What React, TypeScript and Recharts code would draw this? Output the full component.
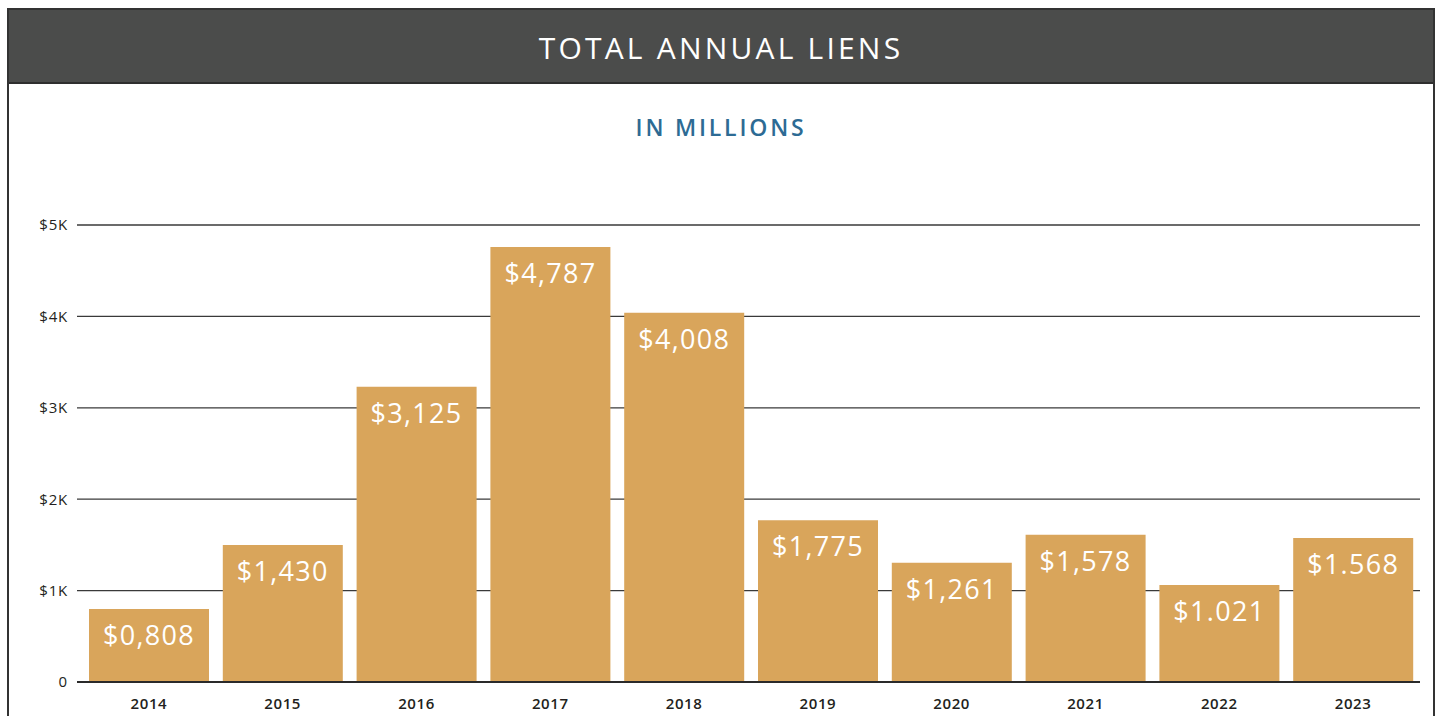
import { BarChart, Bar, XAxis, YAxis, CartesianGrid, LabelList } from 'recharts'

// years on the x axis
const years = ['2014', '2015', '2016', '2017', '2018', '2019', '2020', '2021', '2022', '2023']
// bar heights in millions
const liens = [800, 1500, 3230, 4760, 4040, 1770, 1305, 1610, 1060, 1575]
// value labels as printed on the bars
const barLabels = ['$0,808', '$1,430', '$3,125', '$4,787', '$4,008', '$1,775', '$1,261', '$1,578', '$1.021', '$1.568']
const yTicks = [0, 1000, 2000, 3000, 4000, 5000]

const FONT = '"Open Sans", sans-serif'
const GOLD = '#d9a55b'
const INK = '#231f20'

const chartData = years.map((year, i) => ({ year, value: liens[i], label: barLabels[i] }))

function formatTick(v: number): string {
  return v === 0 ? '0' : `$${v / 1000}K`
}

function BarValue(props: any) {
  const { x, y, width, value } = props
  return (
    <text
      x={x + width / 2}
      y={y + 36}
      textAnchor="middle"
      fill="#ffffff"
      fontSize={27}
      fontWeight={500}
      fontFamily={FONT}
      style={{ letterSpacing: '1.3px' }}
    >
      {value}
    </text>
  )
}

export default function App() {
  return (
    <div style={{ position: 'absolute', left: 0, top: 0, width: 1442, height: 716, overflow: 'hidden', background: '#ffffff' }}>
      <div
        style={{
          position: 'absolute',
          left: 7,
          top: 8,
          width: 1428,
          height: 740,
          border: '2px solid #333333',
          boxSizing: 'border-box',
        }}
      >
        <div
          style={{
            height: 74,
            background: '#4b4c4b',
            borderBottom: '2px solid #2e2e2e',
            boxSizing: 'border-box',
            display: 'flex',
            alignItems: 'center',
            justifyContent: 'center',
            color: '#ffffff',
            fontFamily: FONT,
            fontSize: 30,
            fontWeight: 500,
            letterSpacing: '3.2px',
            paddingTop: 2,
          }}
        >
          TOTAL ANNUAL LIENS
        </div>
      </div>
      <div
        style={{
          position: 'absolute',
          left: 0,
          top: 110,
          width: 1442,
          textAlign: 'center',
          color: '#2d6b94',
          fontFamily: FONT,
          fontWeight: 600,
          fontSize: 23,
          letterSpacing: '2.8px',
          lineHeight: '34px',
        }}
      >
        IN MILLIONS
      </div>
      <div style={{ position: 'absolute', left: 0, top: 0 }}>
        <BarChart
          width={1442}
          height={716}
          data={chartData}
          margin={{ top: 225, right: 22, bottom: 4, left: 0 }}
          barSize={120}
        >
          <CartesianGrid vertical={false} stroke="#3a3a3a" strokeWidth={1.3} />
          <XAxis
            dataKey="year"
            height={30}
            padding={{ left: 5, right: 0 }}
            axisLine={{ stroke: '#2a2a2a', strokeWidth: 2 }}
            tickLine={false}
            tickMargin={10}
            tick={{ fill: INK, fontSize: 15, fontWeight: 600, fontFamily: FONT, letterSpacing: '0.6px' }}
          />
          <YAxis
            width={77}
            domain={[0, 5000]}
            ticks={yTicks}
            tickFormatter={formatTick}
            axisLine={false}
            tickLine={false}
            tickSize={0}
            tickMargin={9}
            tick={{ fill: INK, fontSize: 15, fontWeight: 500, fontFamily: FONT, letterSpacing: '0.8px' }}
          />
          <Bar dataKey="value" fill={GOLD} isAnimationActive={false}>
            <LabelList dataKey="label" content={BarValue} />
          </Bar>
        </BarChart>
      </div>
    </div>
  )
}
